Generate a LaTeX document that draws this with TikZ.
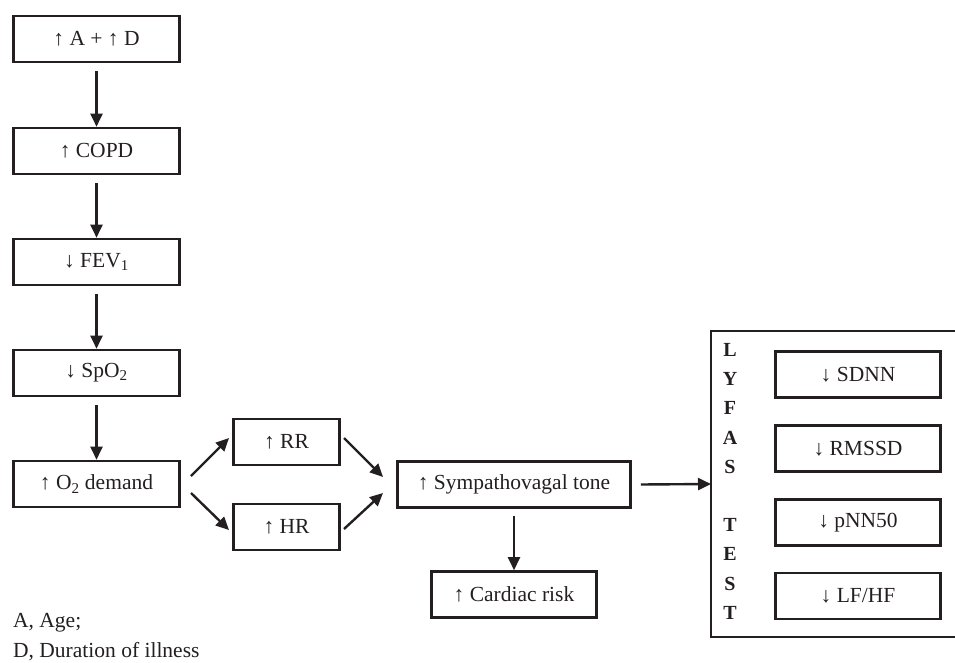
\documentclass[tikz,border=0pt]{standalone}
\usepackage{fontspec}
\setmainfont{Liberation Serif}
\usetikzlibrary{arrows.meta}
\definecolor{ink}{HTML}{231F20}
\tikzset{
  box/.style={draw=ink, line width=2.6pt, minimum height=46pt, inner sep=0pt, font=\fontsize{21.5}{24}\selectfont, text=ink},
  conn/.style={draw=ink, line width=2.4pt, -{Triangle[length=13pt,width=12pt]}},
  lab/.style={font=\fontsize{21.5}{24}\selectfont, text=ink, anchor=west, inner sep=0pt},
  let/.style={font=\fontsize{20}{24}\selectfont\bfseries, text=ink, inner sep=0pt}
}
\begin{document}
\begin{tikzpicture}[x=1pt,y=-1pt]
\useasboundingbox (0,0) rectangle (955,663);
\clip (0,0) rectangle (955,663);
% left column
\node[box, minimum width=166pt] (ad) at (96.5,39) {↑ A + ↑ D};
\node[box, minimum width=166pt] (copd) at (96.5,151) {↑ COPD};
\node[box, minimum width=166pt] (fev) at (96.5,262) {↓ FEV\textsubscript{1}};
\node[box, minimum width=166pt] (spo) at (96.5,373) {↓ SpO\textsubscript{2}};
\node[box, minimum width=166pt] (o2) at (96.5,484) {↑ O\textsubscript{2} demand};
\draw[conn] ([yshift=-8pt]ad.south) -- (copd.north);
\draw[conn] ([yshift=-8pt]copd.south) -- (fev.north);
\draw[conn] ([yshift=-8pt]fev.south) -- (spo.north);
\draw[conn] ([yshift=-8pt]spo.south) -- (o2.north);
% middle
\node[box, minimum width=106pt] (rr) at (286.5,442) {↑ RR};
\node[box, minimum width=106pt] (hr) at (286.5,527) {↑ HR};
\node[box, minimum width=233pt] (sym) at (514,484.5) {↑ Sympathovagal tone};
\node[box, minimum width=165pt] (car) at (514,594.5) {↑ Cardiac risk};
\coordinate (o2a) at (191,476);
\coordinate (o2b) at (191,493);
\coordinate (rrin) at (229,438);
\coordinate (hrin) at (229,530);
\coordinate (rrout) at (344,438);
\coordinate (hrout) at (344,529);
\coordinate (syma) at (383,477);
\coordinate (symb) at (383,493);
\draw[conn] (o2a) -- (rrin);
\draw[conn] (o2b) -- (hrin);
\draw[conn] (rrout) -- (syma);
\draw[conn] (hrout) -- (symb);
\draw[conn] ([yshift=-7pt]sym.south) -- (car.north);
% test box
\coordinate (tl) at (711,331);
\coordinate (bl) at (711,637);
\draw[ink, line width=2.6pt] (965,331) -- (tl) -- (bl) -- (965,637);
\coordinate (tin) at (711,484);
\draw[conn] ([xshift=9pt]sym.east) -- (tin);
\node[box, minimum width=165pt] (sdnn) at (858,374.5) {↓ SDNN};
\node[box, minimum width=165pt] (rmssd) at (858,448.5) {↓ RMSSD};
\node[box, minimum width=165pt] (pnn) at (858,522.5) {↓ pNN50};
\node[box, minimum width=165pt] (lfhf) at (858,596) {↓ LF/HF};
\foreach \l/\i in {L/0,Y/1,F/2,A/3,S/4,T/6,E/7,S/8,T/9}{
  \node[let] (let\i) at (730,{350+29.2*\i}) {\l};
}
% legend
\node[lab] (lega) at (13,623) {A, Age;};
\node[lab] (legd) at (13,652) {D, Duration of illness};
\end{tikzpicture}
\end{document}
